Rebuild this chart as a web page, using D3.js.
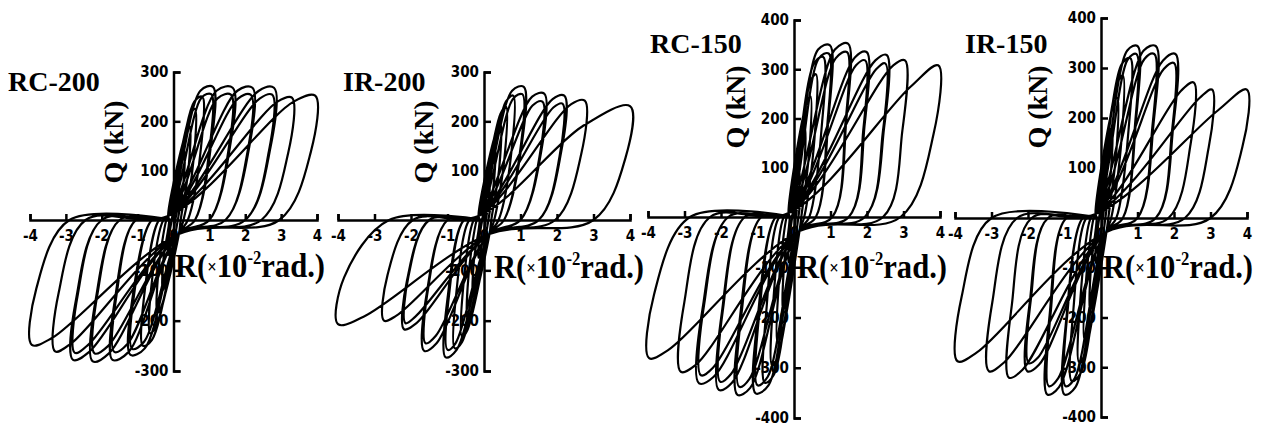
<!DOCTYPE html>
<html>
<head>
<meta charset="utf-8">
<script src="https://cdn.jsdelivr.net/npm/d3@7"></script>
<style>
  body { margin: 0; background: #fff; }
  svg { display: block; }
  .tick text { font-family: "DejaVu Sans Condensed", "DejaVu Sans", sans-serif; font-weight: bold; font-size: 15px; fill: #000; }
  .serif { font-family: "Liberation Serif", "Times New Roman", serif; fill: #000; }
</style>
</head>
<body>
<svg id="chart" width="1264" height="427"></svg>
<script>
// Specimen names and tick values
const panelNames = ["RC-200", "IR-200", "RC-150", "IR-150"];
const rTicks = [-4, -3, -2, -1, 0, 1, 2, 3, 4];
const qTicks300 = [-300, -200, -100, 100, 200, 300];
const qTicks400 = [-400, -300, -200, -100, 100, 200, 300, 400];

// Cycles read off the loops (R in 1e-2 rad, Q in kN):
// [R peak+, Q peak+, R knee+, Q knee+, R zero+, R peak-, Q peak-, R knee-, Q knee-, R zero-]
const rc200Cycles = [
  [0.15, 70, 0.1, 60, 0.05, -0.15, -70, -0.1, -60, -0.05],
  [0.3, 140, 0.22, 125, 0.12, -0.3, -140, -0.22, -125, -0.12],
  [0.45, 190, 0.34, 175, 0.2, -0.45, -185, -0.34, -172, -0.2],
  [0.6, 225, 0.45, 210, 0.28, -0.65, -225, -0.48, -210, -0.28],
  [0.8, 250, 0.58, 240, 0.4, -0.85, -250, -0.6, -238, -0.4],
  [1.1, 270, 0.75, 262, 0.6, -1.2, -268, -0.8, -255, -0.6],
  [1.05, 255, 0.78, 248, 0.6, -1.15, -256, -0.82, -242, -0.6],
  [1.65, 268, 1.2, 262, 1.0, -1.7, -278, -1.25, -262, -1.05],
  [1.6, 254, 1.22, 246, 1.0, -1.65, -262, -1.28, -246, -1.05],
  [2.2, 268, 1.78, 262, 1.45, -2.25, -281, -1.8, -265, -1.5],
  [2.15, 254, 1.8, 246, 1.45, -2.2, -265, -1.82, -250, -1.5],
  [2.8, 268, 2.38, 262, 2.0, -2.8, -278, -2.35, -262, -2.0],
  [2.75, 254, 2.4, 246, 2.0, -2.75, -264, -2.38, -248, -2.0],
  [3.3, 248, 2.9, 240, 2.45, -3.3, -261, -2.85, -245, -2.45],
  [3.95, 252, 3.35, 240, 2.95, -3.95, -248, -3.4, -235, -2.9]
];
const ir200Cycles = [
  [0.15, 75, 0.1, 65, 0.05, -0.15, -75, -0.1, -65, -0.05],
  [0.3, 150, 0.22, 135, 0.12, -0.3, -150, -0.22, -135, -0.12],
  [0.45, 195, 0.34, 180, 0.2, -0.45, -195, -0.34, -180, -0.2],
  [0.6, 230, 0.45, 215, 0.28, -0.6, -232, -0.45, -218, -0.28],
  [0.8, 252, 0.6, 240, 0.4, -0.8, -255, -0.6, -242, -0.4],
  [1.09, 270, 0.77, 262, 0.55, -1.05, -273, -0.75, -258, -0.55],
  [1.05, 255, 0.8, 246, 0.55, -1.0, -258, -0.78, -245, -0.55],
  [1.65, 256, 1.32, 250, 1.0, -1.64, -260, -1.3, -245, -1.0],
  [1.6, 240, 1.33, 232, 1.0, -1.6, -245, -1.32, -230, -1.0],
  [2.2, 252, 1.88, 245, 1.5, -2.19, -217, -1.85, -205, -1.5],
  [2.15, 236, 1.9, 228, 1.5, -2.15, -205, -1.88, -192, -1.5],
  [2.76, 242, 2.39, 235, 1.95, -2.74, -200, -2.4, -190, -1.95],
  [4.0, 231, 2.7, 190, 3.0, -4.0, -207, -3.3, -192, -2.6]
];
const rc150Cycles = [
  [0.15, 90, 0.1, 80, 0.05, -0.15, -90, -0.1, -80, -0.05],
  [0.3, 180, 0.22, 165, 0.12, -0.3, -185, -0.22, -170, -0.12],
  [0.45, 245, 0.34, 230, 0.2, -0.45, -250, -0.34, -235, -0.2],
  [0.6, 290, 0.45, 275, 0.28, -0.6, -295, -0.45, -280, -0.28],
  [0.8, 325, 0.55, 312, 0.42, -0.8, -330, -0.56, -315, -0.4],
  [0.98, 349, 0.66, 340, 0.6, -1.05, -351, -0.7, -335, -0.5],
  [0.95, 332, 0.68, 322, 0.6, -1.0, -335, -0.72, -318, -0.5],
  [1.48, 352, 1.12, 340, 1.05, -1.55, -354, -1.2, -340, -0.9],
  [1.45, 335, 1.14, 322, 1.05, -1.5, -338, -1.22, -322, -0.9],
  [1.99, 335, 1.68, 325, 1.5, -2.06, -344, -1.7, -330, -1.35],
  [1.95, 318, 1.7, 308, 1.5, -2.02, -328, -1.72, -312, -1.35],
  [2.54, 329, 2.23, 318, 1.94, -2.6, -331, -2.2, -318, -1.8],
  [2.5, 312, 2.25, 300, 1.94, -2.55, -315, -2.22, -300, -1.8],
  [3.04, 318, 2.72, 308, 2.44, -3.1, -308, -2.7, -295, -2.3],
  [3.95, 308, 3.2, 265, 2.92, -3.97, -281, -3.45, -265, -2.85]
];
const ir150Cycles = [
  [0.15, 90, 0.1, 80, 0.05, -0.15, -90, -0.1, -80, -0.05],
  [0.3, 180, 0.22, 165, 0.12, -0.3, -185, -0.22, -170, -0.12],
  [0.45, 240, 0.34, 225, 0.2, -0.45, -245, -0.34, -230, -0.2],
  [0.6, 285, 0.45, 270, 0.28, -0.6, -290, -0.45, -275, -0.28],
  [0.8, 320, 0.57, 308, 0.42, -0.8, -328, -0.56, -312, -0.4],
  [1.0, 344, 0.72, 335, 0.6, -1.0, -355, -0.7, -340, -0.5],
  [0.97, 328, 0.74, 318, 0.6, -0.97, -338, -0.72, -322, -0.5],
  [1.5, 344, 1.17, 335, 1.0, -1.47, -355, -1.15, -340, -0.95],
  [1.46, 328, 1.19, 318, 1.0, -1.43, -338, -1.17, -322, -0.95],
  [2.04, 328, 1.7, 315, 1.5, -2.02, -308, -1.7, -295, -1.45],
  [2.0, 310, 1.72, 298, 1.5, -1.98, -292, -1.72, -280, -1.45],
  [2.54, 271, 2.2, 255, 1.85, -2.52, -321, -2.15, -305, -1.9],
  [3.04, 257, 2.7, 240, 2.3, -3.07, -308, -2.65, -290, -2.3],
  [3.99, 257, 3.2, 215, 3.0, -3.93, -288, -3.4, -270, -3.0]
];
// Pinch points near the origin where the slip lines turn
const pinchUp = [-0.15, 8];
const pinchDown = [0.15, -28];

// Panel placement on the page
const panels = [
  { name: panelNames[0], cycles: rc200Cycles, qMax: 300, qTicks: qTicks300,
    xr: [30, 317], yr: [371, 220, 72], title: [8, 91], qLab: [113, 142], rLab: [175, 277] },
  { name: panelNames[1], cycles: ir200Cycles, qMax: 300, qTicks: qTicks300,
    xr: [338, 630], yr: [371, 220, 72], title: [343, 91], qLab: [423, 142], rLab: [494, 278] },
  { name: panelNames[2], cycles: rc150Cycles, qMax: 400, qTicks: qTicks400,
    xr: [648, 940], yr: [418, 217, 20], title: [650, 53], qLab: [735, 107], rLab: [797, 278] },
  { name: panelNames[3], cycles: ir150Cycles, qMax: 400, qTicks: qTicks400,
    xr: [955, 1247], yr: [417, 218, 18], title: [965, 53], qLab: [1037, 107], rLab: [1103, 278] }
];

const svg = d3.select("#chart");

function loopPoints(cycles) {
  const pts = [[0, 0]];
  cycles.forEach(c => {
    const [rp, qp, rkp, qkp, rzp, rn, qn, rkn, qkn, rzn] = c;
    const big = rp > 0.4;
    if (big) pts.push(pinchUp);
    pts.push([rkp, qkp], [rp, qp], [rp - (rp - rzp) * 0.12, qp * 0.55], [rzp, 0]);
    if (big) pts.push(pinchDown);
    pts.push([rkn, qkn], [rn, qn], [rn - (rn - rzn) * 0.12, qn * 0.55], [rzn, 0]);
  });
  pts.push([0, 0]);
  return pts;
}

panels.forEach(p => {
  const x = d3.scaleLinear().domain([-4, 4]).range(p.xr);
  const y = d3.scaleLinear().domain([-p.qMax, 0, p.qMax]).range(p.yr);
  const g = svg.append("g");

  // Q axis
  g.append("g")
    .attr("transform", `translate(${x(0)},0)`)
    .call(d3.axisLeft(y).tickValues(p.qTicks).tickSize(-7).tickPadding(5).tickFormat(d => d));

  // R axis
  g.append("g")
    .attr("transform", `translate(0,${y(0)})`)
    .call(d3.axisBottom(x).tickValues(rTicks).tickSize(-6).tickPadding(10).tickFormat(d => d));

  g.selectAll(".domain, .tick line").attr("stroke", "#000").attr("stroke-width", 2.5);

  // Hysteresis loops
  const line = d3.line()
    .x(d => x(d[0]))
    .y(d => y(d[1]))
    .curve(d3.curveCatmullRom.alpha(0.5));
  g.append("path")
    .datum(loopPoints(p.cycles))
    .attr("d", line)
    .attr("fill", "none")
    .attr("stroke", "#000")
    .attr("stroke-width", 2.2)
    .attr("stroke-linejoin", "round");

  // Specimen name
  g.append("text")
    .attr("class", "serif")
    .attr("x", p.title[0])
    .attr("y", p.title[1])
    .style("font-size", "28px")
    .style("font-weight", "bold")
    .text(p.name);

  // Q (kN) label
  g.append("text")
    .attr("class", "serif")
    .attr("transform", `translate(${p.qLab[0]},${p.qLab[1]}) rotate(-90)`)
    .attr("text-anchor", "middle")
    .attr("dominant-baseline", "central")
    .style("font-size", "28px")
    .style("font-weight", "bold")
    .text("Q (kN)");

  // R label
  const rt = g.append("text")
    .attr("class", "serif")
    .attr("x", p.rLab[0])
    .attr("y", p.rLab[1])
    .attr("textLength", 150)
    .attr("lengthAdjust", "spacingAndGlyphs")
    .style("font-size", "33px")
    .style("font-weight", "bold");
  rt.append("tspan").text("R(");
  rt.append("tspan").style("font-size", "18px").attr("dy", -4).text("×");
  rt.append("tspan").attr("dy", 4).text("10");
  rt.append("tspan").style("font-size", "18px").attr("dy", -13).text("-2");
  rt.append("tspan").attr("dy", 13).text("rad.)");
});
</script>
</body>
</html>
